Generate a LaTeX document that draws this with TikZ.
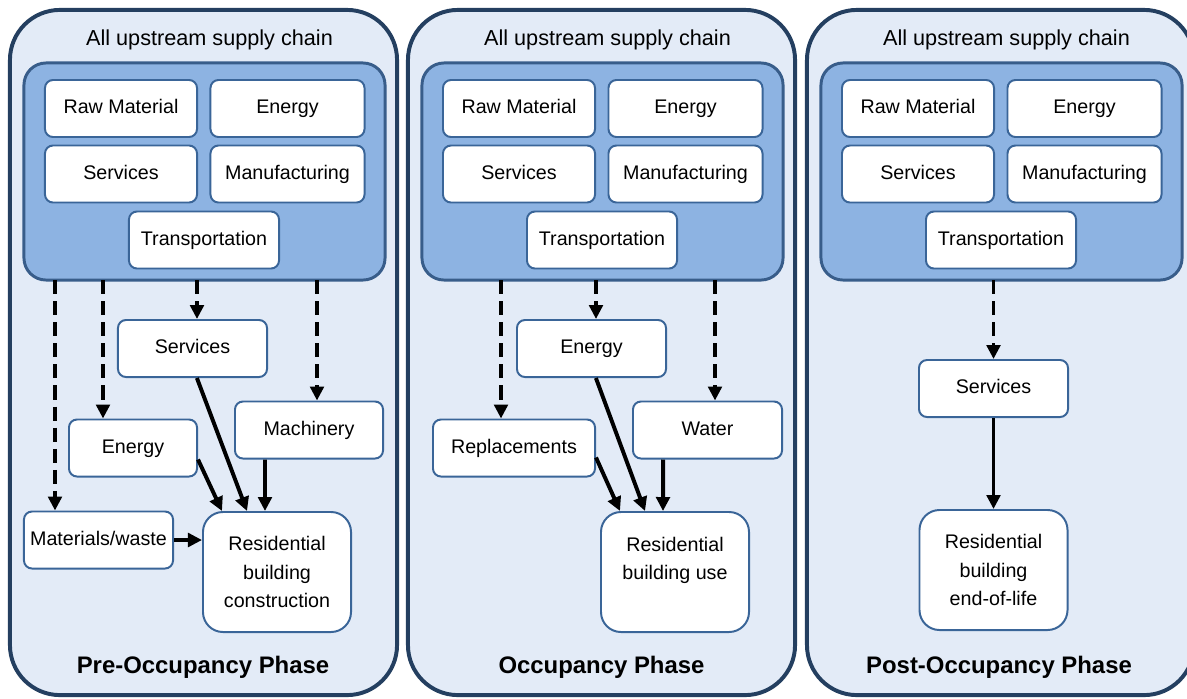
\documentclass[tikz,border=0pt]{standalone}
\usepackage{fontspec}
\setmainfont{Liberation Sans}
\usetikzlibrary{
  positioning,
  arrows.meta
}
\definecolor{panelfill}{HTML}{E3EBF7}
\definecolor{paneldraw}{HTML}{243F60}
\definecolor{chainfill}{HTML}{8DB3E2}
\definecolor{chaindraw}{HTML}{385D8A}
\definecolor{boxdraw}{HTML}{3A6598}
\tikzset{
  >={Triangle[length=3.5mm,width=3.4mm]},
  panel/.style={draw=paneldraw, line width=2.8pt, fill=panelfill,
    rounded corners=1.25cm, minimum width=9.675cm, minimum height=17.125cm},
  chain/.style={draw=chaindraw, line width=2.1pt, fill=chainfill,
    rounded corners=0.55cm, minimum width=9.025cm, minimum height=5.425cm},
  box/.style={draw=boxdraw, line width=1.4pt, fill=white, rounded corners=0.2cm,
    minimum height=1.425cm, inner sep=0pt, text height=1.8ex, text depth=0.35ex,
    font=\fontsize{14}{17}\selectfont},
  bldg/.style={box, rounded corners=0.5cm, minimum width=3.7cm, minimum height=3cm,
    text height=, text depth=, align=center, font=\fontsize{14}{20}\selectfont},
  feed/.style={->, line width=2.8pt, dash pattern=on 10pt off 5pt},
  flow/.style={->, line width=2.8pt},
  head/.style={font=\fontsize{15.4}{18}\selectfont},
  phase/.style={font=\bfseries\fontsize{17}{20}\selectfont}
}

\begin{document}
\begin{tikzpicture}[x=0.025cm, y=-0.025cm]
    \useasboundingbox (0,0) rectangle (1187,698);
    \clip (0,0) rectangle (1187,698);

    % upstream supply chain, same in every phase
    \foreach \p/\dx in {1/0, 2/398, 3/797} {
      \node[panel] (panel\p) at (203.5+\dx,352.5) {};
      \node[head] (up\p) at (209.5+\dx,40) {All upstream supply chain};
      \node[chain] (chain\p) at (204.5+\dx,171.5) {};
      \node[box, minimum width=3.8cm] (raw\p) at (121+\dx,108.5) {Raw Material};
      \node[box, minimum width=3.85cm] (nrg\p) at (287.5+\dx,108.5) {Energy};
      \node[box, minimum width=3.8cm] (srv\p) at (121+\dx,174) {Services};
      \node[box, minimum width=3.85cm] (man\p) at (287.5+\dx,174) {Manufacturing};
      \node[box, minimum width=3.75cm] (tra\p) at (204+\dx,240) {Transportation};
    }

    \node[phase] (pre) at (203,667) {Pre-Occupancy Phase};
    \node[phase] (occ) at (601.5,667) {Occupancy Phase};
    \node[phase] (post) at (999,667) {Post-Occupancy Phase};

    % pre-occupancy
    \node[box, minimum width=3.725cm] (svc1) at (192.5,348.5) {Services};
    \node[box, minimum width=3.7cm] (mach1) at (309,430) {Machinery};
    \node[box, minimum width=3.2cm] (enr1) at (133,448) {Energy};
    \node[box, minimum width=3.725cm] (mat1) at (98.5,540) {Materials/waste};
    \node[bldg] (res1) at (277,572) {Residential\\building\\construction};

    \coordinate (d1) at (55,280);
    \coordinate (d2) at (103,280);
    \coordinate (d3) at (197,280);
    \coordinate (d4) at (317,280);

    \draw[feed] (d1) -- (d1 |- mat1.north);
    \draw[feed] (d2) -- (d2 |- enr1.north);
    \draw[feed] (d3) -- (d3 |- svc1.north);
    \draw[feed] (d4) -- (d4 |- mach1.north);

    \draw[flow] ([yshift=0.45cm]enr1.south east) -- ([xshift=0.5cm]res1.north west);
    \draw[flow] ([xshift=0.11cm]svc1.south) -- ([xshift=1.125cm]res1.north west);
    \draw[flow] ([xshift=-1.1cm]mach1.south) -- ([xshift=-0.3cm]res1.north);
    \draw[flow] (mat1) -- (mat1 -| res1.west);

    % occupancy
    \node[box, minimum width=3.725cm] (enr2) at (591.5,348.5) {Energy};
    \node[box, minimum width=3.725cm] (wat2) at (707.5,430) {Water};
    \node[box, minimum width=4.05cm] (rep2) at (514,448) {Replacements};
    \node[bldg] (res2) at (675,572) {Residential\\building use\\\mbox{}};

    \coordinate (d5) at (501,280);
    \coordinate (d6) at (596,280);
    \coordinate (d7) at (715,280);

    \draw[feed] (d5) -- (d5 |- rep2.north);
    \draw[feed] (d6) -- (d6 |- enr2.north);
    \draw[feed] (d7) -- (d7 |- wat2.north);

    \draw[flow] ([yshift=0.5cm]rep2.south east) -- ([xshift=0.5cm]res2.north west);
    \draw[flow] ([xshift=0.11cm]enr2.south) -- ([xshift=1.125cm]res2.north west);
    \draw[flow] ([xshift=-1.11cm]wat2.south) -- ([xshift=-0.3cm]res2.north);

    % post-occupancy
    \node[box, minimum width=3.725cm] (svc3) at (993.5,388.5) {Services};
    \node[bldg] (res3) at (993.5,570) {Residential\\building\\end-of-life};

    \coordinate (d8) at (993.5,280);

    \draw[feed] (d8) -- (svc3.north);
    \draw[flow] (svc3) -- (res3);
\end{tikzpicture}
\end{document}
